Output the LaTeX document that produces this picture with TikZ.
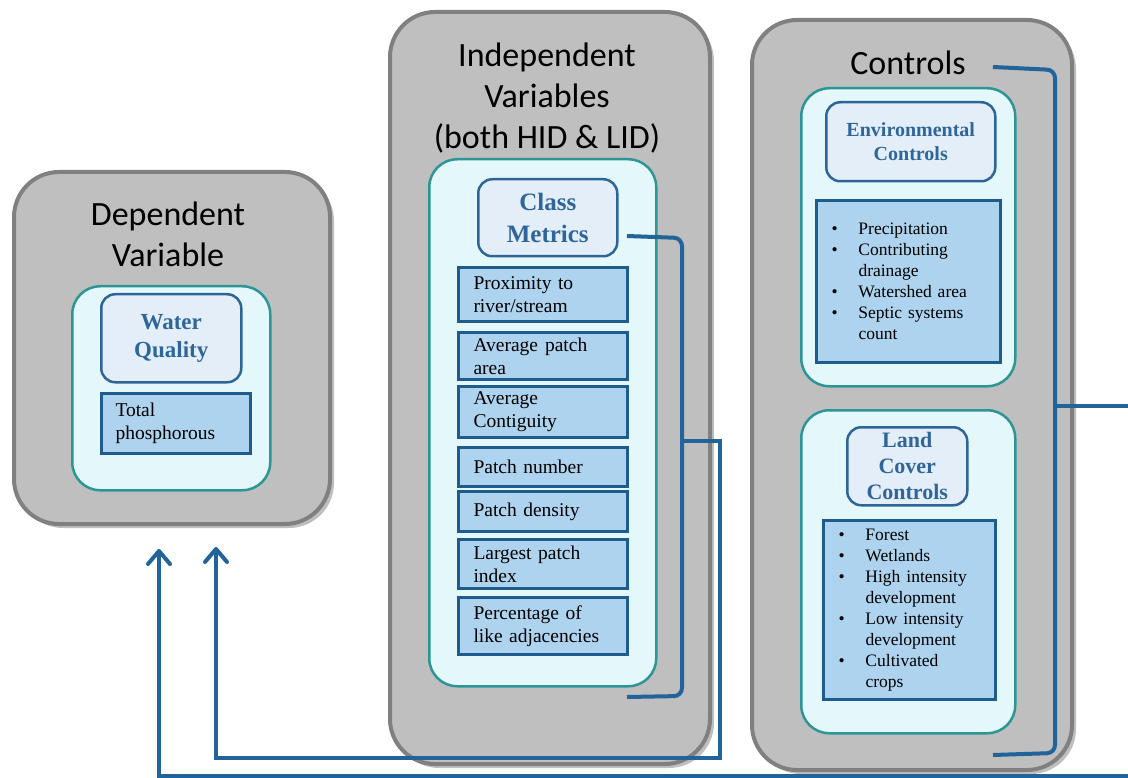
\documentclass[tikz,border=0pt]{standalone}
\usepackage{fontspec}
\setmainfont{Liberation Serif}
\newfontfamily\titlefam{Carlito}
\usetikzlibrary{arrows.meta,shadows}
\definecolor{boxgray}{HTML}{BFBFBF}
\definecolor{boxborder}{HTML}{808080}
\definecolor{cyanfill}{HTML}{E4F8FB}
\definecolor{tealb}{HTML}{2E9597}
\definecolor{headfill}{HTML}{E3EEF8}
\definecolor{headborder}{HTML}{2D6597}
\definecolor{headtext}{HTML}{2F6699}
\definecolor{itemfill}{HTML}{ADD3EE}
\definecolor{itemborder}{HTML}{1E5C8E}
\definecolor{conncol}{HTML}{22649A}
\begin{document}
\begin{tikzpicture}[x=1pt,y=-1pt,
  graybox/.style={draw=boxborder, line width=4pt, fill=boxgray, rounded corners=45pt,
    anchor=north west, inner sep=0pt,
    drop shadow={shadow xshift=4pt, shadow yshift=-4pt, opacity=0.25, fill=black}},
  cyanbox/.style={draw=tealb, line width=2.5pt, fill=cyanfill, rounded corners=28pt,
    anchor=north west, inner sep=0pt},
  headbox/.style={draw=headborder, line width=2.5pt, fill=headfill, rounded corners=14pt,
    anchor=north west, inner sep=0pt, text=headtext, align=center},
  itembox/.style={draw=itemborder, line width=3pt, fill=itemfill, anchor=north west,
    inner xsep=15pt, inner ysep=0pt, align=left,
    font=\fontsize{19.5}{23}\selectfont},
  listbox/.style={itembox, font=\fontsize{17.5}{21}\selectfont},
  titletext/.style={font=\titlefam\fontsize{34}{41}\selectfont, align=center, inner sep=0pt},
  conn/.style={draw=conncol, line width=4pt},
  arr/.style={conn, -{Straight Barb[length=13pt,width=22pt,round]}}
]
\newcommand{\bul}{\makebox[27pt][l]{\textbullet}}
\newcommand{\ind}{\hspace*{27pt}}
\useasboundingbox (0,0) rectangle (1128,778);

% gray boxes
\node[graybox, minimum width=316pt, minimum height=352pt] (dep) at (12,170) {};
\node[graybox, minimum width=320pt, minimum height=752pt] (ind) at (388,10) {};
\node[graybox, minimum width=320pt, minimum height=750pt] (ctrl) at (750,18) {};

% titles
\node[titletext] (deptitle) at (168,234) {Dependent\\Variable};
\node[titletext] (indtitle) at (547,98) {Independent\\Variables\\(both HID \& LID)};
\node[titletext] (ctrltitle) at (908,63) {Controls};

% cyan boxes
\node[cyanbox, minimum width=198pt, minimum height=204pt] (depin) at (71,285) {};
\node[cyanbox, minimum width=227pt, minimum height=527pt] (indin) at (428,158) {};
\node[cyanbox, minimum width=214pt, minimum height=298pt] (envin) at (800,87) {};
\node[cyanbox, minimum width=214pt, minimum height=323pt] (landin) at (800,409) {};

% heading boxes
\node[headbox, minimum width=140pt, minimum height=88pt, font=\bfseries\fontsize{23}{28}\selectfont] (wq) at (100,293) {Water\\Quality};
\node[headbox, minimum width=139pt, minimum height=77pt, font=\bfseries\fontsize{25}{32}\selectfont] (cm) at (477,178) {Class\\Metrics};
\node[headbox, minimum width=169pt, minimum height=79pt, font=\bfseries\fontsize{20}{24}\selectfont] (env) at (825,101) {Environmental\\Controls};
\node[headbox, minimum width=120pt, minimum height=78pt, font=\bfseries\fontsize{22}{26}\selectfont] (land) at (846,426) {Land\\Cover\\Controls};

% dependent item
\node[itembox, inner xsep=14pt, minimum width=149pt, minimum height=60pt, text width=121pt] (tp) at (100,392) {Total\\phosphorous};

% independent items
\node[itembox, minimum width=169pt, minimum height=54pt, text width=139pt] (i1) at (457,266) {Proximity to\\river/stream};
\node[itembox, minimum width=169pt, minimum height=47pt, text width=139pt] (i2) at (457,331) {Average\hspace{7pt}patch\\area};
\node[itembox, minimum width=169pt, minimum height=51pt, text width=139pt] (i3) at (457,385) {Average\\Contiguity};
\node[itembox, minimum width=169pt, minimum height=39pt, text width=139pt] (i4) at (457,446) {Patch number};
\node[itembox, minimum width=169pt, minimum height=40pt, text width=139pt] (i5) at (457,490) {Patch density};
\node[itembox, minimum width=169pt, minimum height=49pt, text width=139pt] (i6) at (457,538) {Largest patch\\index};
\node[itembox, minimum width=169pt, minimum height=57pt, text width=139pt] (i7) at (457,596) {Percentage of\\like adjacencies};

% control lists
\node[listbox, minimum width=184pt, minimum height=162pt, text width=154pt] (envlist) at (815,199)
  {\bul Precipitation\\\bul Contributing\\\ind drainage\\\bul Watershed area\\\bul Septic systems\\\ind count};
\node[listbox, minimum width=172pt, minimum height=179pt, text width=142pt] (landlist) at (822,519)
  {\bul Forest\\\bul Wetlands\\\bul High\hspace{6pt}intensity\\\ind development\\\bul Low intensity\\\ind development\\\bul Cultivated\\\ind crops};

% connector coordinates
\coordinate (cmtop) at (627,236);
\coordinate (cmbot) at (627,697);
\coordinate (cmmid) at (682,441);
\coordinate (cttop) at (993,67);
\coordinate (ctbot) at (993,755);
\coordinate (ctmid) at (1055,406);
\coordinate (tipA) at (216,547);
\coordinate (tipB) at (159,549);

\begin{scope}
\clip (0,0) rectangle (1128,778);
% brackets
\draw[conn, rounded corners=8pt] (cmtop) -- (682,238) -- (682,696) -- (cmbot);
\draw[conn, rounded corners=8pt] (cttop) -- (1055,70) -- (1055,753) -- (ctbot);
% links to dependent variable
\draw[arr] (cmmid) -- (720,441) -- (720,758) -- (216,758) -- (tipA);
\draw[arr] (ctmid) -- (1145,406) -- (1145,776) -- (159,776) -- (tipB);
\end{scope}
\end{tikzpicture}
\end{document}
